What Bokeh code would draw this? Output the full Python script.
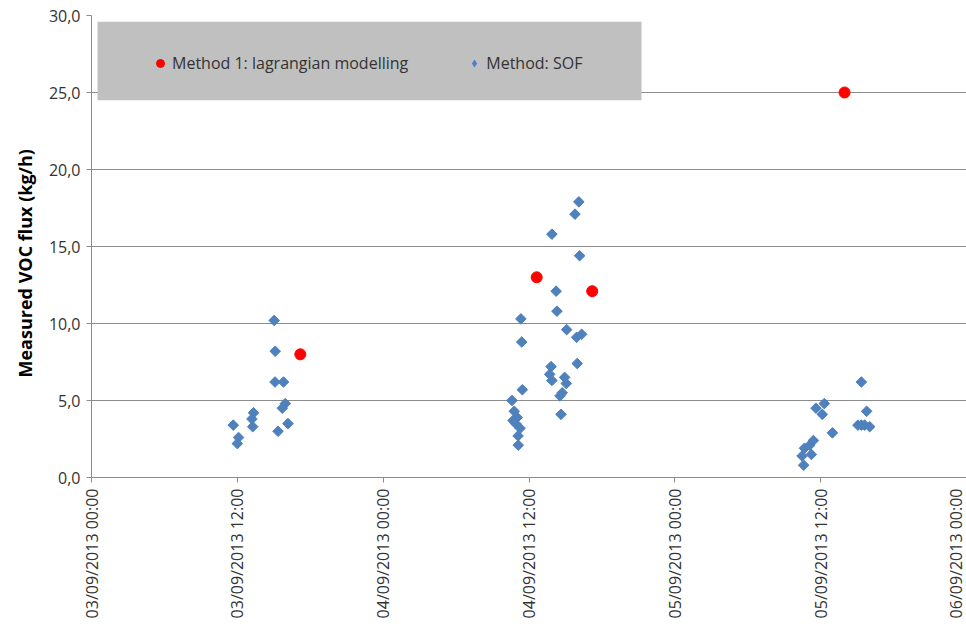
import math
import pandas as pd
from bokeh.plotting import figure
from bokeh.models import (Range1d, FixedTicker, CustomJSTickFormatter, BoxAnnotation, Title,
                          Legend, LegendItem)
from bokeh.embed import file_html
from bokeh.resources import INLINE

# Lagrangian modelling estimates
lagr_time = ["2013-09-03 17:11", "2013-09-04 12:38", "2013-09-04 17:12", "2013-09-05 13:58"]
lagr_flux = [8.0, 13.0, 12.1, 25.0]

# Solar occultation flux (SOF) measurements
sof_time = [
    "2013-09-03 11:40", "2013-09-03 12:06", "2013-09-03 12:00", "2013-09-03 13:20",
    "2013-09-03 13:12", "2013-09-03 13:16", "2013-09-03 15:02", "2013-09-03 15:07",
    "2013-09-03 15:06", "2013-09-03 15:48", "2013-09-03 15:57", "2013-09-03 15:42",
    "2013-09-03 15:21", "2013-09-03 16:10",
    "2013-09-04 16:06", "2013-09-04 15:47", "2013-09-04 13:53", "2013-09-04 16:10",
    "2013-09-04 14:14", "2013-09-04 14:18", "2013-09-04 11:20", "2013-09-04 11:24",
    "2013-09-04 15:06", "2013-09-04 15:55", "2013-09-04 16:20", "2013-09-04 15:58",
    "2013-09-04 13:49", "2013-09-04 13:42", "2013-09-04 13:53", "2013-09-04 14:56",
    "2013-09-04 15:04", "2013-09-04 14:44", "2013-09-04 14:33", "2013-09-04 14:38",
    "2013-09-04 11:27", "2013-09-04 10:36", "2013-09-04 10:47", "2013-09-04 11:02",
    "2013-09-04 10:41", "2013-09-04 10:54", "2013-09-04 11:16", "2013-09-04 11:06",
    "2013-09-04 11:07",
    "2013-09-05 15:21", "2013-09-05 11:37", "2013-09-05 12:18", "2013-09-05 12:08",
    "2013-09-05 15:47", "2013-09-05 12:58", "2013-09-05 15:04", "2013-09-05 15:21",
    "2013-09-05 15:37", "2013-09-05 16:02", "2013-09-05 11:24", "2013-09-05 11:06",
    "2013-09-05 10:40", "2013-09-05 11:14", "2013-09-05 10:28", "2013-09-05 10:36",
]
sof_flux = [
    3.4, 2.6, 2.2, 4.2, 3.8, 3.3, 10.2, 8.2, 6.2, 6.2, 4.8, 4.5, 3.0, 3.5,
    17.9, 17.1, 15.8, 14.4, 12.1, 10.8, 10.3, 8.8, 9.6, 9.1, 9.3, 7.4, 7.2, 6.7,
    6.3, 6.5, 6.1, 5.5, 5.3, 4.1, 5.7, 5.0, 4.3, 3.9, 3.7, 3.5, 3.2, 2.7, 2.1,
    6.2, 4.5, 4.8, 4.1, 4.3, 2.9, 3.4, 3.4, 3.4, 3.3, 2.4, 2.1, 1.9, 1.5, 1.4, 0.8,
]

x_ticks = ["2013-09-03 00:00", "2013-09-03 12:00", "2013-09-04 00:00", "2013-09-04 12:00",
           "2013-09-05 00:00", "2013-09-05 12:00", "2013-09-06 00:00"]
y_ticks = [0, 5, 10, 15, 20, 25, 30]

FONT = "Open Sans"
GRID = "#8c8c8c"
TEXT = "#333333"
RED = "#ff0000"
BLUE = "#4f81bd"


def to_ms(values):
    return [pd.Timestamp(v).value // 10**6 for v in values]


tick_ms = to_ms(x_ticks)
sof_dt = pd.to_datetime(sof_time)

p = figure(width=966, height=629, x_axis_type="datetime",
           x_range=Range1d(tick_ms[0], tick_ms[-1]), y_range=Range1d(0, 30),
           output_backend="svg", toolbar_location=None,
           min_border_left=91, min_border_right=0, min_border_top=15, min_border_bottom=152)
p.outline_line_color = None
p.background_fill_color = "white"
p.border_fill_color = "white"

# grey legend panel, drawn over the grid
p.add_layout(BoxAnnotation(left=6, right=550, left_units="screen", right_units="screen",
                           bottom=24.5, top=29.6, fill_color="#c0c0c0", fill_alpha=1.0,
                           line_color=None))

lagr = p.scatter(pd.to_datetime(lagr_time), lagr_flux, marker="circle", size=11,
                 fill_color=RED, line_color=RED)
# SOF diamonds: a narrow diamond key underneath, covered by the rotated squares
sof_key = p.scatter(sof_dt, sof_flux, marker="diamond", size=8,
                    fill_color=BLUE, line_color=None)
sof = p.scatter(sof_dt, sof_flux, marker="square", angle=math.pi / 4, size=7.5,
                fill_color=BLUE, line_color=BLUE)

# axes
p.xgrid.grid_line_color = None
p.ygrid.grid_line_color = GRID
p.ygrid.ticker = FixedTicker(ticks=y_ticks)

p.xaxis.ticker = FixedTicker(ticks=tick_ms)
p.xaxis.formatter = CustomJSTickFormatter(code="""
const d = new Date(tick);
const z = (n) => String(n).padStart(2, '0');
return z(d.getUTCDate()) + '/' + z(d.getUTCMonth() + 1) + '/' + d.getUTCFullYear() +
       ' ' + z(d.getUTCHours()) + ':' + z(d.getUTCMinutes());
""")
p.xaxis.major_label_orientation = math.pi / 2

p.yaxis.ticker = FixedTicker(ticks=y_ticks)
p.yaxis.formatter = CustomJSTickFormatter(code="return tick.toFixed(1).replace('.', ',');")

for ax in (p.xaxis[0], p.yaxis[0]):
    ax.axis_line_color = GRID
    ax.major_tick_line_color = GRID
    ax.major_tick_out = 5
    ax.major_tick_in = 0
    ax.minor_tick_line_color = None
    ax.major_label_text_font = FONT
    ax.major_label_text_font_size = "16px"
    ax.major_label_text_color = TEXT
    ax.major_label_standoff = 6

p.add_layout(Title(text="Measured VOC flux (kg/h)", text_font=FONT, text_font_size="18px",
                   text_font_style="bold", text_color="#000000", align="left",
                   offset=100, standoff=18), "left")

lg = Legend(items=[LegendItem(label="Method 1: lagrangian modelling", renderers=[lagr]),
                   LegendItem(label="Method: SOF", renderers=[sof_key])],
            orientation="horizontal", location=(49, 393), margin=0, padding=10, spacing=56,
            glyph_width=20, label_standoff=2, background_fill_alpha=0, border_line_alpha=0,
            label_text_font=FONT, label_text_font_size="16px", label_text_color=TEXT)
p.add_layout(lg)

open("out.html", "w").write(file_html(p, INLINE))
